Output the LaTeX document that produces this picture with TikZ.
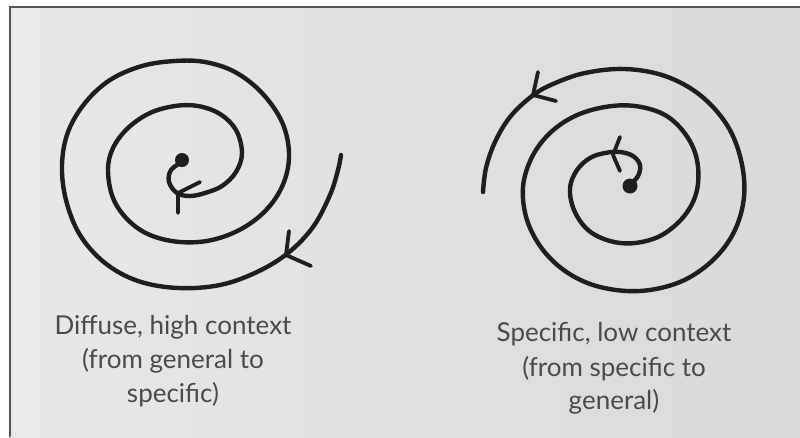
\documentclass[tikz,border=0pt]{standalone}
\usepackage{fontspec}
\setmainfont{Lato}
\usetikzlibrary{calc}
\definecolor{bgl}{HTML}{E8E8E8}
\definecolor{bgr}{HTML}{D9D9D9}
\definecolor{framec}{HTML}{555555}
\definecolor{inkc}{HTML}{1E1E1E}
\definecolor{textc}{HTML}{4A4A4A}
\begin{document}
\begin{tikzpicture}[x=1pt,y=-1pt,
  spiral/.style={draw=inkc,line width=4.4pt,line cap=round,line join=round},
  barb/.style={draw=inkc,line width=3.8pt,line cap=round,line join=round},
  dotc/.style={fill=inkc},
  lbl/.style={text=textc,font=\fontsize{26}{30}\selectfont,anchor=base,inner sep=0pt}]
\useasboundingbox (0,0) rectangle (800,437);
\fill[white] (0,0) rectangle (800,437);
\shade[left color=bgl,right color=bgr] (9,6) rectangle (800,437);
\draw[framec,line width=2.5pt] (10,437) -- (10,7) -- (800,7);

% left spiral: diffuse, high context
\draw[spiral] plot[smooth,tension=0.6] coordinates {
 (182,162) (171,170) (169,182) (177,193) (190,196) (205,193) (222,186) (236,172)
 (242,153) (236,130) (220,114) (198,106) (175,106) (150,113) (128,128) (113,148)
 (108,170) (113,198) (128,220) (150,235) (180,242) (212,240) (243,228) (268,208)
 (284,182) (289,153) (282,122) (262,93) (235,72) (205,62) (175,61) (142,66)
 (110,80) (85,103) (68,132) (62,165) (66,200) (80,235) (105,263) (138,281)
 (178,288) (220,285) (257,272) (288,253) (313,227) (330,195) (338,170) (341,155)};
\fill[dotc] (182,160) circle (7);
\coordinate (la) at (286,255);
\draw[barb] (289,231) -- (la) -- (311,266);
\coordinate (lb) at (178,193);
\draw[barb] (178,213) -- (lb) -- (200,182);

% right spiral: specific, low context
\draw[spiral] plot[smooth,tension=0.6] coordinates {
 (630,185) (638,176) (640,165) (633,156) (620,152) (605,153) (590,158) (577,170)
 (570,188) (574,210) (588,230) (610,241) (635,243) (662,235) (685,215) (697,190)
 (697,160) (686,135) (665,115) (635,106) (605,107) (575,116) (550,133) (532,157)
 (523,187) (527,220) (543,250) (568,273) (600,287) (640,291) (680,282) (712,261)
 (734,232) (744,197) (741,160) (727,125) (700,95) (665,76) (625,69) (585,73)
 (553,84) (532,96) (510,117) (495,142) (486,168) (483,192)};
\fill[dotc] (630,186) circle (7.5);
\coordinate (ra) at (533,95);
\draw[barb] (538,72) -- (ra) -- (556,101);
\coordinate (rb) at (613,155);
\draw[barb] (620,137) -- (rb) -- (620,171);

% labels
\node[lbl] (l1) at (173,334) {Diffuse, high context};
\node[lbl] (l2) at (173,368) {(from general to};
\node[lbl] (l3) at (173,402) {specific)};
\node[lbl] (r1) at (614,341) {Specific, low context};
\node[lbl] (r2) at (614,376) {(from specific to};
\node[lbl] (r3) at (614,409) {general)};
\end{tikzpicture}
\end{document}
